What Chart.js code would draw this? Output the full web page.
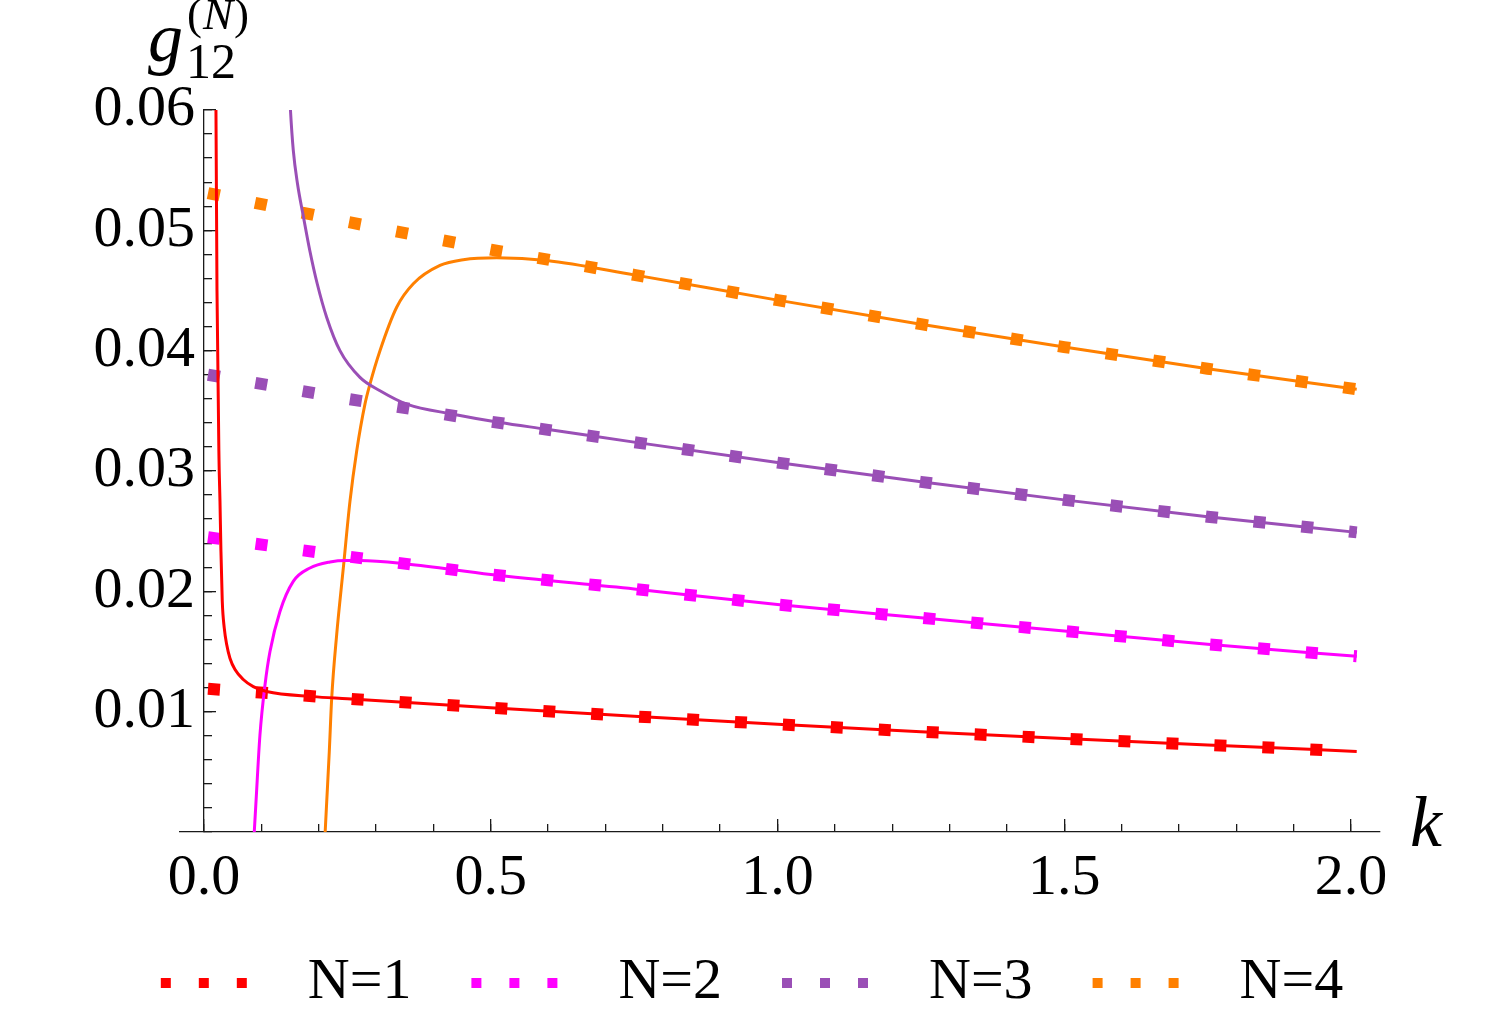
<!DOCTYPE html>
<html>
<head>
<meta charset="utf-8">
<script src="https://cdn.jsdelivr.net/npm/chart.js@4.4.0/dist/chart.umd.min.js"></script>
<style>
    html, body { margin: 0; padding: 0; background: #fff; }
    #wrap { position: relative; width: 1500px; height: 1033px; }
    #wrap canvas { position: absolute; left: 0; top: 0; }
    .lbl { position: absolute; font-family: 'Liberation Serif', serif; line-height: 1; color: #000; white-space: nowrap; }
</style>
</head>
<body>
<div id="wrap">
    <canvas id="grafico" width="1500" height="1033"></canvas>
    <span class="lbl" style="left:148px; top:3px; font-size:70px; font-style:italic;">g</span>
    <span class="lbl" style="left:186px; top:36px; font-size:50px;">12</span>
    <span class="lbl" style="left:187px; top:-8px; font-size:45px; letter-spacing:1px;">(<i>N</i>)</span>
    <span class="lbl" style="left:1410px; top:786px; font-size:72px; font-style:italic;">k</span>
</div>
<script>
// dati
var etichette = ['N=1', 'N=2', 'N=3', 'N=4'];
var colori = ['#ff0000', '#ff00ff', '#9a4fb6', '#ff8000'];

// serie puntinate
var kPunti = [0.007, 0.25, 0.5, 0.75, 1.0, 1.25, 1.5, 1.75, 2.01];
var puntiN1 = [0.0119, 0.01108, 0.01032, 0.00961, 0.00895, 0.00833, 0.00776, 0.00723, 0.0067];
var puntiN2 = [0.0245, 0.0229, 0.0214, 0.0202, 0.0189, 0.0178, 0.0167, 0.0156, 0.0146];
var puntiN3 = [0.0380, 0.0360, 0.0341, 0.0324, 0.0307, 0.0291, 0.0276, 0.0262, 0.0249];
var puntiN4 = [0.0531, 0.0507, 0.0484, 0.0463, 0.0442, 0.0422, 0.0403, 0.0385, 0.0368];

// curve continue
var kCurvaN1 = [0.0190, 0.0209, 0.0227, 0.0262, 0.0279, 0.0296, 0.0319, 0.0354, 0.0396, 0.0453, 0.0541, 0.0685, 0.0860, 0.1093, 0.19, 0.25, 0.5, 0.75, 1.0, 1.25, 1.5, 1.75, 2.01];
var curvaN1 = [0.070, 0.060, 0.045, 0.031, 0.0275, 0.02333, 0.01917, 0.01694, 0.01558, 0.01444, 0.0135, 0.01267, 0.01208, 0.01167, 0.01125, 0.01108, 0.01032, 0.00961, 0.00895, 0.00833, 0.00776, 0.00723, 0.0067];

var kCurvaN2 = [0.0865, 0.0907, 0.0976, 0.1064, 0.1151, 0.1325, 0.1557, 0.1848, 0.2197, 0.2488, 0.272, 0.3534, 0.5, 0.75, 1.0, 1.25, 1.5, 1.75, 2.01];
var curvaN2 = [-0.001, 0.0025, 0.00806, 0.01222, 0.015, 0.01833, 0.02083, 0.02194, 0.02244, 0.02256, 0.02256, 0.02228, 0.0214, 0.0202, 0.0189, 0.0178, 0.0167, 0.0156, 0.0146];

var kCurvaN3 = [0.1475, 0.1508, 0.1557, 0.1630, 0.1735, 0.1845, 0.1975, 0.2139, 0.2371, 0.272, 0.3069, 0.3534, 0.4347, 0.5161, 0.5976, 0.75, 1.0, 1.25, 1.5, 1.75, 2.01];
var curvaN3 = [0.0633, 0.060, 0.05667, 0.05389, 0.05111, 0.04833, 0.04556, 0.04278, 0.0400, 0.03778, 0.03667, 0.03556, 0.03472, 0.03403, 0.03347, 0.0324, 0.0307, 0.0291, 0.0276, 0.0262, 0.0249];

var kCurvaN4 = [0.211, 0.214, 0.2185, 0.2227, 0.2314, 0.2429, 0.2546, 0.2663, 0.2807, 0.2894, 0.3069, 0.336, 0.365, 0.4115, 0.4521, 0.5104, 0.5976, 0.75, 1.0, 1.25, 1.5, 1.75, 2.01];
var curvaN4 = [-0.0003, 0.0025, 0.00667, 0.0111, 0.0164, 0.0219, 0.0275, 0.03167, 0.03556, 0.03722, 0.0400, 0.04361, 0.04556, 0.04708, 0.04756, 0.04772, 0.0475, 0.0463, 0.0442, 0.0422, 0.0403, 0.0385, 0.0368];

// assi
var tickX = [0, 0.5, 1.0, 1.5, 2.0];
var tickY = [0.01, 0.02, 0.03, 0.04, 0.05, 0.06];

function punti(ks, vs) {
    return ks.map(function (k, i) { return {x: k, y: vs[i]}; });
}

var curve = [punti(kCurvaN1, curvaN1), punti(kCurvaN2, curvaN2), punti(kCurvaN3, curvaN3), punti(kCurvaN4, curvaN4)];
var puntinate = [punti(kPunti, puntiN1), punti(kPunti, puntiN2), punti(kPunti, puntiN3), punti(kPunti, puntiN4)];

var datasets = [];
curve.forEach(function (d, i) {
    datasets.push({
        label: '',
        data: d,
        borderColor: colori[i],
        backgroundColor: colori[i],
        borderWidth: 3,
        pointRadius: 0,
        cubicInterpolationMode: 'monotone',
        clip: 0
    });
});
puntinate.forEach(function (d, i) {
    datasets.push({
        label: etichette[i],
        data: d,
        borderColor: colori[i],
        backgroundColor: colori[i],
        borderWidth: 12,
        borderDash: [12, 36],
        borderCapStyle: 'butt',
        pointRadius: 0,
        clip: 0
    });
});

Chart.defaults.font.family = "'Liberation Serif', serif";
Chart.defaults.color = '#000';

var nero = '#1a1a1a';
var fontTick = {family: "'Liberation Serif', serif", size: 58, lineHeight: 1};
var kMin = -0.0418, kMax = 2.0506;

var ctx = document.getElementById('grafico');
new Chart(ctx, {
    type: 'line',
    data: {datasets: datasets},
    options: {
        responsive: false,
        animation: false,
        events: [],
        layout: {padding: {left: 0, right: 28, top: 110, bottom: 11}},
        scales: {
            // etichette dell'asse k
            x: {
                type: 'linear',
                position: 'bottom',
                min: kMin,
                max: kMax,
                grid: {drawOnChartArea: false, drawTicks: false, color: nero, lineWidth: 1.3},
                border: {color: nero, width: 1.3},
                afterBuildTicks: function (s) { s.ticks = tickX.map(function (v) { return {value: v}; }); },
                ticks: {
                    padding: 18,
                    maxRotation: 0,
                    font: fontTick,
                    callback: function (v) { return v.toFixed(1); }
                }
            },
            xMaggiori: {
                type: 'linear',
                axis: 'x',
                position: {y: 0},
                min: kMin,
                max: kMax,
                grid: {drawOnChartArea: false, color: nero, lineWidth: 1.3, tickLength: -13},
                border: {display: false},
                ticks: {display: false, stepSize: 0.5, includeBounds: false}
            },
            xMinori: {
                type: 'linear',
                axis: 'x',
                position: {y: 0},
                min: kMin,
                max: kMax,
                grid: {drawOnChartArea: false, color: nero, lineWidth: 1.3, tickLength: -8},
                border: {display: false},
                ticks: {display: false, stepSize: 0.1, includeBounds: false}
            },
            y: {
                type: 'linear',
                position: {x: 0},
                min: 0,
                max: 0.06,
                grid: {drawOnChartArea: false, color: nero, lineWidth: 1.3, tickLength: -13},
                border: {color: nero, width: 1.3},
                afterBuildTicks: function (s) { s.ticks = tickY.map(function (v) { return {value: v}; }); },
                ticks: {display: false}
            },
            yMinori: {
                type: 'linear',
                axis: 'y',
                position: {x: 0},
                min: 0,
                max: 0.06,
                grid: {drawOnChartArea: false, color: nero, lineWidth: 1.3, tickLength: -8},
                border: {display: false},
                ticks: {display: false, stepSize: 0.002, includeBounds: false}
            },
            // etichette dell'asse verticale, un po' a sinistra dell'asse
            yEtichette: {
                type: 'linear',
                axis: 'y',
                position: {x: -0.0157},
                min: 0,
                max: 0.06,
                grid: {display: false, drawTicks: false},
                border: {display: false},
                afterBuildTicks: function (s) { s.ticks = tickY.map(function (v) { return {value: v}; }); },
                ticks: {
                    font: fontTick,
                    callback: function (v) { return v.toFixed(2); }
                }
            },
            spazioSx: {
                type: 'linear',
                axis: 'y',
                position: 'left',
                display: true,
                grid: {display: false, drawTicks: false},
                border: {display: false},
                ticks: {display: false},
                afterFit: function (s) { s.width = 180; }
            },
            spazioDx: {
                type: 'linear',
                axis: 'y',
                position: 'right',
                display: true,
                grid: {display: false, drawTicks: false},
                border: {display: false},
                ticks: {display: false},
                afterFit: function (s) { s.width = 92; }
            }
        },
        plugins: {
            tooltip: {enabled: false},
            legend: {
                position: 'bottom',
                labels: {
                    usePointStyle: true,
                    pointStyle: 'line',
                    pointStyleWidth: 150,
                    padding: 28,
                    color: '#000',
                    font: {family: "'Liberation Serif', serif", size: 58},
                    generateLabels: function (chart) {
                        var items = Chart.defaults.plugins.legend.labels.generateLabels(chart);
                        return items.filter(function (it) { return it.text !== ''; }).map(function (it) {
                            it.lineDash = [10, 28, 10, 28, 10, 64];
                            it.lineDashOffset = 118;
                            it.lineWidth = 10;
                            it.lineCap = 'butt';
                            it.pointStyle = 'line';
                            return it;
                        });
                    }
                }
            }
        }
    }
});
</script>
</body>
</html>
